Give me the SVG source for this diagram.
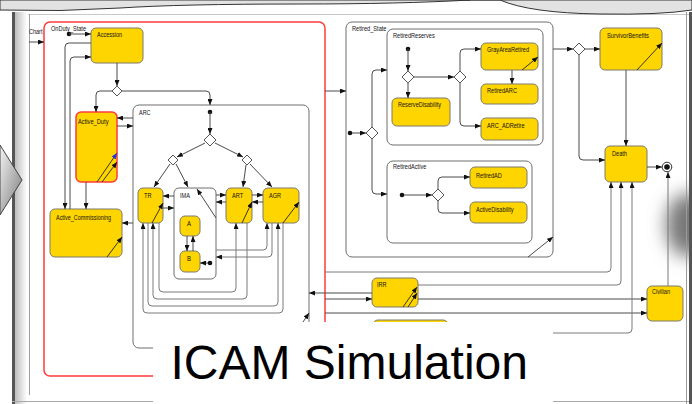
<svg xmlns="http://www.w3.org/2000/svg" width="692" height="404" viewBox="0 0 692 404">
  <style>
    .lbl { font-family: "Liberation Sans", Arial, sans-serif; font-size: 7px; fill: #111; }
    .st { fill: #FFD500; stroke: #7d7a6a; stroke-width: 1; }
    .comp { fill: none; stroke: #6e6e6e; stroke-width: 1; }
    .jn { fill: #fff; stroke: #555; stroke-width: 1; }
    .dot { fill: #111; }
    .c { fill: none; stroke: #4a4a4a; stroke-width: 1; marker-end: url(#ah); }
    .lp { fill: none; stroke: #7a7a7a; stroke-width: 1; }
    .self { fill: none; stroke: #222; stroke-width: 0.9; marker-end: url(#ah); }
  </style>
  <defs>
    <marker id="ah" markerWidth="6" markerHeight="5" refX="6" refY="2.5" orient="auto" markerUnits="userSpaceOnUse">
      <path d="M0,0 L6,2.5 L0,5 z" fill="#111"/>
    </marker>
    <marker id="ahb" markerWidth="6" markerHeight="5" refX="6" refY="2.5" orient="auto" markerUnits="userSpaceOnUse">
      <path d="M0,0 L6,2.5 L0,5 z" fill="#2233dd"/>
    </marker>
    <linearGradient id="edge" x1="0" y1="0" x2="1" y2="0">
      <stop offset="0" stop-color="#bdbdbd"/>
      <stop offset="1" stop-color="#ffffff"/>
    </linearGradient>
    <linearGradient id="chev" x1="0" y1="0" x2="1" y2="1">
      <stop offset="0" stop-color="#f4f4f4"/>
      <stop offset="1" stop-color="#7a7a7a"/>
    </linearGradient>
    <filter id="soft" x="-1" y="-1" width="3" height="3">
      <feGaussianBlur stdDeviation="9"/>
    </filter>
  </defs>

  <!-- slide frame -->
  <rect x="0" y="0" width="692" height="404" fill="#ffffff"/>
  <ellipse cx="688" cy="225" rx="22" ry="32" fill="#777" filter="url(#soft)"/>
  <line x1="28" y1="14.5" x2="692" y2="14.5" stroke="#c8c8c8" stroke-width="1"/>
  <path d="M0,0 H692 V10 Q660,15 600,14 Q530,13 500,0 Z" fill="#e2e2e2" stroke="#333" stroke-width="1"/>
  <path d="M0,0 H470 Q400,4 300,4 Q180,4 120,8 Q60,12 0,10 Z" fill="#e2e2e2" stroke="#333" stroke-width="1"/>
  <rect x="12" y="12" width="3" height="392" fill="#555"/>
  <rect x="15" y="12" width="12" height="392" fill="url(#edge)"/>
  <line x1="29.5" y1="14" x2="29.5" y2="395" stroke="#a0a0a0" stroke-width="1"/>
  <line x1="12" y1="401.5" x2="692" y2="401.5" stroke="#a8a8a8" stroke-width="1"/>
  <line x1="686.5" y1="12" x2="686.5" y2="404" stroke="#9a9a9a" stroke-width="1"/>
  <rect x="689" y="12" width="3" height="392" fill="#555"/>
  <path d="M0,145 L22,180 L0,215 Z" fill="url(#chev)" stroke="#444" stroke-width="1"/>

  <text class="lbl" x="29" y="34" textLength="13.5" lengthAdjust="spacingAndGlyphs">Chart</text>

  <!-- composite states -->
  <g id="OnDuty_State">
    <rect x="44" y="22" width="281" height="354" rx="6" fill="none" stroke="#ff3b3b" stroke-width="1.5"/>
    <text class="lbl" x="51" y="31" textLength="35" lengthAdjust="spacingAndGlyphs">OnDuty_State</text>
  </g>
  <g id="ARC">
    <rect x="133" y="105" width="176" height="243" rx="6" class="comp"/>
    <text class="lbl" x="139" y="115" textLength="11.5" lengthAdjust="spacingAndGlyphs">ARC</text>
  </g>
  <g id="IMA">
    <rect x="174" y="188" width="42" height="91" rx="5" fill="#fff" stroke="#6e6e6e"/>
    <text class="lbl" x="180" y="198" textLength="10" lengthAdjust="spacingAndGlyphs">IMA</text>
  </g>
  <g id="Retired_State">
    <rect x="346" y="22" width="207" height="235" rx="6" class="comp"/>
    <text class="lbl" x="352" y="31" textLength="34.5" lengthAdjust="spacingAndGlyphs">Retired_State</text>
  </g>
  <g id="RetiredReserves">
    <rect x="387" y="29" width="156" height="116" rx="6" class="comp"/>
    <text class="lbl" x="393" y="38" textLength="41.7" lengthAdjust="spacingAndGlyphs">RetiredReserves</text>
  </g>
  <g id="RetiredActive">
    <rect x="387" y="161" width="145" height="82" rx="6" class="comp"/>
    <text class="lbl" x="393" y="169" textLength="33.3" lengthAdjust="spacingAndGlyphs">RetiredActive</text>
  </g>

  <!-- leaf states -->
  <g id="Accession">
    <rect x="91" y="28" width="52" height="35" rx="5" class="st"/>
    <text class="lbl" x="97" y="37" textLength="25" lengthAdjust="spacingAndGlyphs">Accession</text>
  </g>
  <g id="Active_Duty">
    <rect x="76" y="112" width="41" height="70" rx="5" fill="#FFD500" stroke="#ff3b3b" stroke-width="1.5"/>
    <text class="lbl" x="78" y="124" textLength="30.5" lengthAdjust="spacingAndGlyphs">Active_Duty</text>
    <path class="self" d="M97,182 L117,153" stroke="#2233dd" style="marker-end:url(#ahb)"/>
    <path class="self" d="M102,182 L117,162"/>
  </g>
  <g id="Active_Commissioning">
    <rect x="50" y="209" width="72" height="48" rx="5" class="st"/>
    <text class="lbl" x="56" y="220" textLength="55" lengthAdjust="spacingAndGlyphs">Active_Commissioning</text>
    <path class="self" d="M107,257 L122,237"/>
  </g>
  <g id="TR">
    <rect x="138" y="188" width="25" height="35" rx="5" class="st"/>
    <text class="lbl" x="144" y="198" textLength="7.5" lengthAdjust="spacingAndGlyphs">TR</text>
    <path class="self" d="M152,223 L163,203"/>
  </g>
  <g id="A">
    <rect x="180" y="216" width="20" height="20" rx="5" class="st"/>
    <text class="lbl" x="187" y="226" textLength="4" lengthAdjust="spacingAndGlyphs">A</text>
  </g>
  <g id="B">
    <rect x="180" y="251" width="20" height="21" rx="5" class="st"/>
    <text class="lbl" x="187" y="261" textLength="4" lengthAdjust="spacingAndGlyphs">B</text>
  </g>
  <g id="ART">
    <rect x="226" y="188" width="26" height="35" rx="5" class="st"/>
    <text class="lbl" x="232" y="198" textLength="11.2" lengthAdjust="spacingAndGlyphs">ART</text>
    <path class="self" d="M242,223 L252,202"/>
  </g>
  <g id="AGR">
    <rect x="263" y="188" width="36" height="35" rx="5" class="st"/>
    <text class="lbl" x="269" y="198" textLength="12" lengthAdjust="spacingAndGlyphs">AGR</text>
    <path class="self" d="M283,223 L299,202"/>
  </g>
  <g id="ReserveDisability">
    <rect x="392" y="98" width="58" height="28" rx="5" class="st"/>
    <text class="lbl" x="398" y="107" textLength="43" lengthAdjust="spacingAndGlyphs">ReserveDisability</text>
  </g>
  <g id="GrayAreaRetired">
    <rect x="481" y="43" width="57" height="27" rx="5" class="st"/>
    <text class="lbl" x="487" y="52" textLength="42" lengthAdjust="spacingAndGlyphs">GrayAreaRetired</text>
    <path class="self" d="M522,70 L538,57"/>
  </g>
  <g id="RetiredARC">
    <rect x="481" y="84" width="57" height="20" rx="5" class="st"/>
    <text class="lbl" x="487" y="93" textLength="30" lengthAdjust="spacingAndGlyphs">RetiredARC</text>
  </g>
  <g id="ARC_ADRetire">
    <rect x="481" y="118" width="57" height="22" rx="5" class="st"/>
    <text class="lbl" x="487" y="128" textLength="37.6" lengthAdjust="spacingAndGlyphs">ARC_ADRetire</text>
  </g>
  <g id="RetiredAD">
    <rect x="470" y="167" width="57" height="21" rx="5" class="st"/>
    <text class="lbl" x="476" y="178" textLength="25.8" lengthAdjust="spacingAndGlyphs">RetiredAD</text>
  </g>
  <g id="ActiveDisability">
    <rect x="470" y="202" width="57" height="21" rx="5" class="st"/>
    <text class="lbl" x="476" y="212" textLength="37.6" lengthAdjust="spacingAndGlyphs">ActiveDisability</text>
  </g>
  <g id="SurvivorBenefits">
    <rect x="600" y="28" width="62" height="42" rx="5" class="st"/>
    <text class="lbl" x="607" y="38" textLength="42" lengthAdjust="spacingAndGlyphs">SurvivorBenefits</text>
    <path class="self" d="M637,70 L662,43"/>
  </g>
  <g id="Death">
    <rect x="605" y="146" width="42" height="36" rx="5" class="st"/>
    <text class="lbl" x="612" y="156" textLength="15" lengthAdjust="spacingAndGlyphs">Death</text>
  </g>
  <g id="IRR">
    <rect x="372" y="278" width="46" height="29" rx="5" class="st"/>
    <text class="lbl" x="377" y="287" textLength="9.6" lengthAdjust="spacingAndGlyphs">IRR</text>
    <path class="self" d="M403,307 L417,287"/>
    <path class="self" d="M408,307 L417,293"/>
  </g>
  <g id="Civilian">
    <rect x="647" y="286" width="36" height="35" rx="5" class="st"/>
    <text class="lbl" x="652" y="294" textLength="18" lengthAdjust="spacingAndGlyphs">Civilian</text>
  </g>
  <g id="SRR">
    <rect x="373" y="320" width="75" height="20" rx="5" class="st"/>
  </g>

  <!-- junctions, defaults, terminal -->
  <g id="junctions">
    <path class="jn" d="M117,86 L122,91 L117,96 L112,91 Z"/>
    <path class="jn" d="M210,134 L216,140 L210,146 L204,140 Z"/>
    <path class="jn" d="M173,155 L178,160 L173,165 L168,160 Z"/>
    <path class="jn" d="M247,155 L252,160 L247,165 L242,160 Z"/>
    <path class="jn" d="M408,71 L414,77 L408,83 L402,77 Z"/>
    <path class="jn" d="M460,71 L466,77 L460,83 L454,77 Z"/>
    <path class="jn" d="M372,127 L378,133 L372,139 L366,133 Z"/>
    <path class="jn" d="M438,189 L444,195 L438,201 L432,195 Z"/>
    <path class="jn" d="M579,43 L585,49 L579,55 L573,49 Z"/>
  </g>
  <g id="defaults">
    <circle class="dot" cx="69" cy="34" r="2.3"/>
    <circle class="dot" cx="210" cy="112" r="2.3"/>
    <circle class="dot" cx="210" cy="263" r="2.3"/>
    <circle class="dot" cx="408" cy="49" r="2.3"/>
    <circle class="dot" cx="350" cy="133" r="2.3"/>
    <circle class="dot" cx="402" cy="195" r="2.3"/>
  </g>
  <g id="terminal">
    <circle cx="667" cy="167" r="4.8" fill="#fff" stroke="#333" stroke-width="1"/>
    <circle cx="667" cy="167" r="2.8" fill="#111"/>
  </g>

  <!-- transitions -->
  <g id="connectors">
    <path class="c" d="M29,42 H44"/>
    <path class="c" d="M69,34 H91"/>
    <path class="c" d="M117,63 V86"/>
    <path class="c" d="M112,91 H100 Q96,91 96,95 V112"/>
    <path class="c" d="M122,91 H206 Q210,91 210,95 V105"/>
    <path class="c" d="M210,112 V134"/>
    <path class="c" d="M205,143 L177,157"/>
    <path class="c" d="M215,143 L243,157"/>
    <path class="c" d="M170,164 L154,187"/>
    <path class="c" d="M176,164 L188,187"/>
    <path class="c" d="M246,165 L243,187"/>
    <path class="c" d="M250,164 L272,187"/>
    <path class="c" d="M174,196 H163"/>
    <path class="c" d="M163,208 H174"/>
    <path class="c" d="M216,195 H226"/>
    <path class="c" d="M226,202 H216"/>
    <path class="c" d="M252,195 H263"/>
    <path class="c" d="M263,202 H252"/>
    <path class="c" d="M187,236 V251"/>
    <path class="c" d="M193,251 V236"/>
    <path class="c" d="M208,263 H200"/>
    <path class="c" d="M216,218 L197,189"/>
    <path class="c lp" d="M159,223 V288 Q159,292 163,292 H232 Q236,292 236,288 V223"/>
    <path class="c lp" d="M247,223 V295 Q247,299 243,299 H157 Q153,299 153,295 V223"/>
    <path class="c lp" d="M148,223 V302 Q148,306 152,306 H274 Q278,306 278,302 V223"/>
    <path class="c lp" d="M283,223 V309 Q283,313 279,313 H147 Q143,313 143,309 V223"/>
    <path class="c lp" d="M216,250 H263 Q267,250 267,246 V223"/>
    <path class="c lp" d="M272,223 V253 Q272,257 268,257 H216"/>
    <path class="c" d="M133,118 H117"/>
    <path class="c" d="M117,126 H133"/>
    <path class="c" d="M86,182 V209"/>
    <path class="c" d="M133,223 H122"/>
    <path class="c" d="M91,43 H69 Q65,43 65,47 V209"/>
    <path class="c" d="M70,209 V61 Q70,57 74,57 H91"/>
    <path class="c" d="M325,91 H346"/>
    <path class="c" d="M352,133 H366"/>
    <path class="c" d="M372,127 V74 Q372,70 376,70 H387"/>
    <path class="c" d="M372,139 V190 Q372,194 376,194 H387"/>
    <path class="c" d="M408,49 V71"/>
    <path class="c" d="M408,83 V98"/>
    <path class="c" d="M414,77 H454"/>
    <path class="c" d="M460,71 V53 Q460,49 464,49 H481"/>
    <path class="c" d="M460,83 V122 Q460,126 464,126 H481"/>
    <path class="c" d="M512,70 V84"/>
    <path class="c" d="M404,195 H432"/>
    <path class="c" d="M438,189 V181 Q438,177 442,177 H470"/>
    <path class="c" d="M438,201 V209 Q438,213 442,213 H470"/>
    <path class="c" d="M553,49 H573"/>
    <path class="c" d="M585,49 H600"/>
    <path class="c" d="M579,55 V156 Q579,160 583,160 H605"/>
    <path class="c" d="M626,70 V146"/>
    <path class="c" d="M647,167 H662"/>
    <path class="c" d="M528,257 L553,237"/>
    <path class="c lp" d="M325,272 H607 Q611,272 611,268 V182"/>
    <path class="c lp" d="M418,285 H617 Q621,285 621,281 V182"/>
    <path class="c" d="M372,293 H309"/>
    <path class="c" d="M325,299 H372"/>
    <path class="c" d="M418,299 H647"/>
    <path class="c" d="M325,313 H647"/>
    <path class="c lp" d="M553,333 H628 Q632,333 632,329 V182"/>
    <path class="c lp" d="M668,286 V172"/>
    <path class="c" d="M303,322 L309,313"/>
  </g>

  <!-- title -->
  <rect x="153" y="322" width="400" height="82" fill="#ffffff"/>
  <text x="170.5" y="379" font-family="Liberation Sans, Arial, sans-serif" font-size="48" fill="#000">ICAM Simulation</text>
</svg>
